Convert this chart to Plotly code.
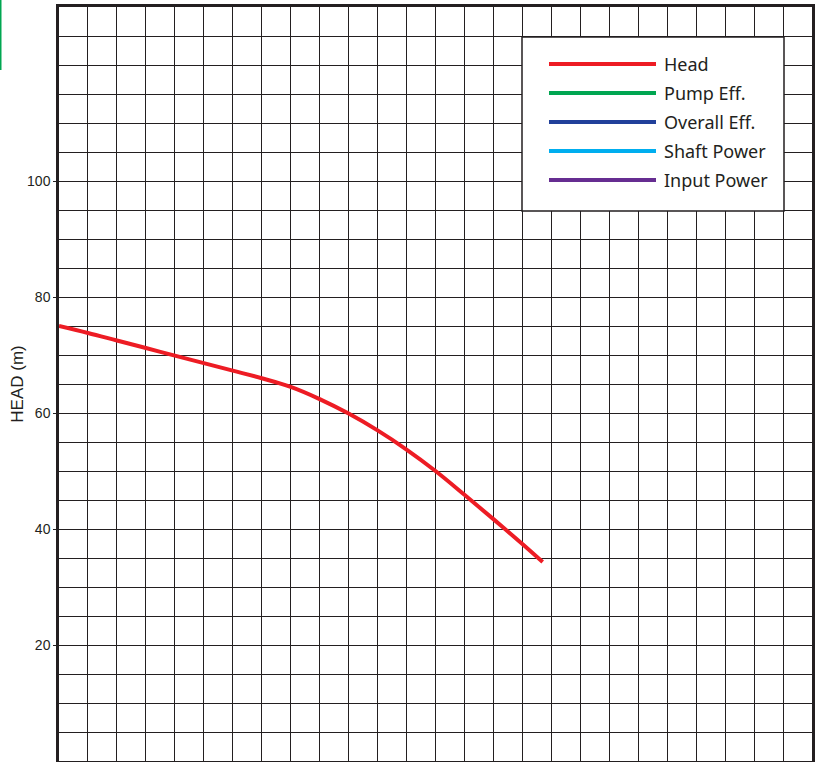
import plotly.graph_objects as go

# Data (x in grid-cell units; no x tick labels in the reference)
flow = [0, 1, 2, 3, 4, 5, 6, 7, 8, 9, 10, 11, 12, 13, 14, 15, 16, 16.7]
head = [75.0, 73.8, 72.5, 71.2, 69.9, 68.6, 67.3, 66.0, 64.5, 62.4, 59.9,
        57.0, 53.7, 50.0, 45.9, 41.7, 37.4, 34.3]

series_names = ["Head", "Pump Eff.", "Overall Eff.", "Shaft Power", "Input Power"]
series_colors = ["#ED1C24", "#00A651", "#21409A", "#00AEEF", "#662D91"]

y_ticks = [20, 40, 60, 80, 100]
y_range = [0, 130]
x_range = [0, 26]

W, H = 817, 762
ML, MR, MT, MB = 59, 5, 7, 1
grid_col = "#231F20"

fig = go.Figure()
fig.add_trace(go.Scatter(
    x=flow, y=head, mode="lines", name=series_names[0],
    line=dict(color=series_colors[0], width=4, shape="spline", smoothing=1.0),
    showlegend=False, hoverinfo="skip",
))

# custom legend (long sample lines as in the reference)
pw = W - ML - MR
ph = H - MT - MB
def px2x(px):
    return (px - ML) / pw
def py2y(py):
    return (H - MB - py) / ph

shapes = [
    dict(type="rect", xref="paper", yref="paper",
         x0=px2x(522), x1=px2x(784), y0=py2y(211), y1=py2y(37),
         line=dict(color=grid_col, width=1.5), fillcolor="white", layer="above"),
    # green edge artifact at top-left
    dict(type="rect", xref="paper", yref="paper",
         x0=px2x(0), x1=px2x(1.5), y0=py2y(70), y1=py2y(0),
         line=dict(width=0), fillcolor="#00A651", layer="above"),
]
annotations = []
for i, (nm, col) in enumerate(zip(series_names, series_colors)):
    py = 64 + 29 * i
    shapes.append(dict(type="line", xref="paper", yref="paper",
                       x0=px2x(549), x1=px2x(656), y0=py2y(py), y1=py2y(py),
                       line=dict(color=col, width=4), layer="above"))
    annotations.append(dict(xref="paper", yref="paper", x=px2x(662), y=py2y(py),
                            text=nm, showarrow=False, xanchor="left", yanchor="middle",
                            font=dict(family="Noto Sans", size=18, color="#231F20")))

fig.update_layout(
    width=W, height=H,
    margin=dict(l=ML, r=MR, t=MT, b=MB),
    paper_bgcolor="white", plot_bgcolor="white",
    showlegend=False,
    shapes=shapes, annotations=annotations,
    font=dict(family="Liberation Sans", color="#231F20"),
)
fig.update_xaxes(
    range=x_range, dtick=1, tick0=0, showticklabels=False, ticks="",
    showgrid=True, gridcolor=grid_col, gridwidth=1.2,
    showline=True, linecolor=grid_col, linewidth=2.5, mirror=True, zeroline=False,
)
fig.update_yaxes(
    range=y_range, tickvals=y_ticks, ticks="outside", ticklen=3,
    tickcolor=grid_col, tickwidth=1.2,
    tickfont=dict(family="Liberation Sans", size=14, color="#231F20"),
    showgrid=True, gridcolor=grid_col, gridwidth=1.2,
    minor=dict(dtick=5, tick0=0, showgrid=True, gridcolor=grid_col, gridwidth=1.2, ticks=""),
    showline=True, linecolor=grid_col, linewidth=2.5, mirror=True, zeroline=False,
    title=dict(text="HEAD (m)", font=dict(family="Liberation Sans", size=17, color="#231F20"),
               standoff=0),
)

fig.write_html(
    "out.html",
    config={"displayModeBar": False},
    post_script="document.body.style.margin='0';document.body.style.overflow='hidden';",
)
